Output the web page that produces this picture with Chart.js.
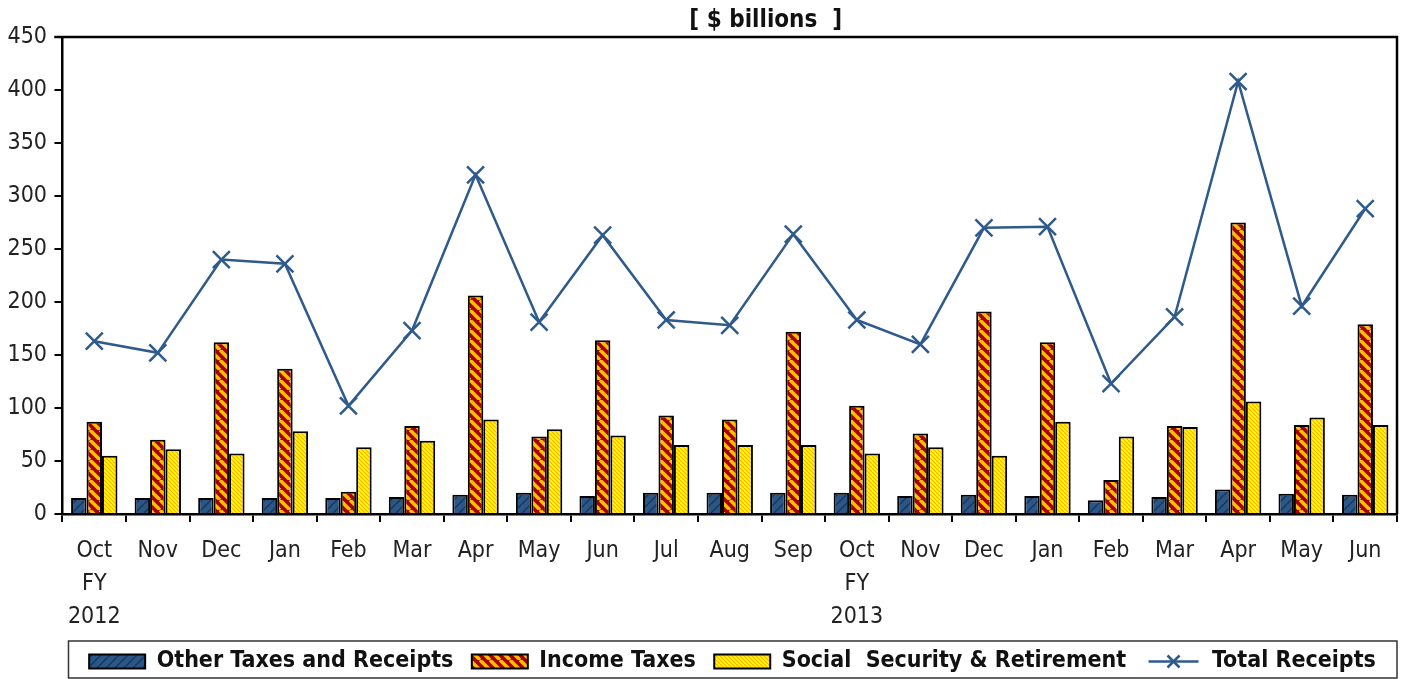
<!DOCTYPE html>
<html>
<head>
<meta charset="utf-8">
<script src="https://cdn.jsdelivr.net/npm/chart.js@4.4.0/dist/chart.umd.min.js"></script>
<style>
  html, body { margin: 0; padding: 0; background: #fff; overflow: hidden; }
  canvas { display: block; }
</style>
</head>
<body>
<canvas id="receipts" width="1405" height="679"></canvas>
<script>
const months = [["Oct", "FY", "2012"], "Nov", "Dec", "Jan", "Feb", "Mar", "Apr", "May", "Jun", "Jul", "Aug", "Sep",
  ["Oct", "FY", "2013"], "Nov", "Dec", "Jan", "Feb", "Mar", "Apr", "May", "Jun"];
const otherTaxes = [15, 15, 15, 15, 15, 16, 18, 20, 17, 20, 20, 20, 20, 17, 18, 17, 13, 16, 23, 19, 18];
const incomeTaxes = [87, 70, 162, 137, 21, 83, 206, 73, 164, 93, 89, 172, 102, 76, 191, 162, 32, 83, 275, 84, 179];
const socialSecurity = [55, 61, 57, 78, 63, 69, 89, 80, 74, 65, 65, 65, 57, 63, 55, 87, 73, 82, 106, 91, 84];
const totalReceipts = [163, 152, 240, 236, 102, 173, 320, 181, 263, 183, 178, 264, 183, 160, 270, 271, 123, 186, 408, 196, 288];
const yTicks = [0, 50, 100, 150, 200, 250, 300, 350, 400, 450];

const FONT = "'Liberation Sans Narrow', 'DejaVu Sans Condensed', 'Liberation Sans', sans-serif";
const LINE_COLOR = '#2E5A8C';

// striped fills like the spreadsheet patterns
function stripes(base, stripe, size, width, dir) {
  const c = document.createElement('canvas');
  c.width = size; c.height = size;
  const g = c.getContext('2d');
  g.fillStyle = base;
  g.fillRect(0, 0, size, size);
  g.strokeStyle = stripe;
  g.lineWidth = width;
  for (let k = -1; k <= 1; k++) {
    const x0 = k * size;
    g.beginPath();
    if (dir === '\\') { g.moveTo(x0, 0); g.lineTo(x0 + size, size); }
    else { g.moveTo(x0, size); g.lineTo(x0 + size, 0); }
    g.stroke();
  }
  return g.createPattern(c, 'repeat');
}

const ctx = document.getElementById('receipts').getContext('2d');
const bluePat = stripes('#2A5788', '#1A3656', 9, 1.5, '/');
const redPat = stripes('#A80000', '#FFC000', 10, 3.4, '\\');
const yellowPat = stripes('#FFFF00', '#FFB000', 4, 1.2, '\\');

const extras = {
  id: 'extras',
  afterLayout(chart) {
    // legend row sits a little right of centre in the original
    chart.legend.left += 34;
    chart.legend.right += 34;
  },
  beforeDatasetsDraw(chart) {
    const a = chart.chartArea, c = chart.ctx;
    c.save();
    c.strokeStyle = '#000';
    c.lineWidth = 2.5;
    c.beginPath();
    c.moveTo(a.left - 8, a.top);
    c.lineTo(a.right, a.top);
    c.lineTo(a.right, a.bottom);
    c.stroke();
    c.restore();
  },
  afterDraw(chart) {
    const a = chart.chartArea, c = chart.ctx, lg = chart.legend;
    c.save();
    // title
    c.font = "bold 24px " + FONT;
    c.fillStyle = '#111';
    c.textAlign = 'center';
    c.textBaseline = 'middle';
    c.fillText('[ $ billions  ]', a.left + (a.right - a.left) * 0.527, 21);
    // legend frame
    c.strokeStyle = '#333';
    c.lineWidth = 1.5;
    c.strokeRect(a.left + 6, 641, a.right - a.left - 6, 37);
    // line legend symbol
    const i = lg.legendItems.findIndex(it => it.datasetIndex === 3);
    const hb = lg.legendHitBoxes[i];
    const cy = hb.top + hb.height / 2;
    c.strokeStyle = LINE_COLOR;
    c.lineWidth = 2.5;
    c.beginPath();
    c.moveTo(hb.left + 4, cy);
    c.lineTo(hb.left + 54, cy);
    c.stroke();
    c.beginPath();
    c.moveTo(hb.left + 23, cy - 6); c.lineTo(hb.left + 35, cy + 6);
    c.moveTo(hb.left + 35, cy - 6); c.lineTo(hb.left + 23, cy + 6);
    c.stroke();
    c.restore();
  }
};

new Chart(ctx, {
  type: 'bar',
  data: {
    labels: months,
    datasets: [{
      label: 'Other Taxes and Receipts  ',
      data: otherTaxes,
      backgroundColor: bluePat,
      borderColor: '#000',
      borderWidth: 2,
      order: 1
    }, {
      label: 'Income Taxes  ',
      data: incomeTaxes,
      backgroundColor: redPat,
      borderColor: '#000',
      borderWidth: 2,
      order: 1
    }, {
      label: 'Social  Security & Retirement  ',
      data: socialSecurity,
      backgroundColor: yellowPat,
      borderColor: '#000',
      borderWidth: 2,
      order: 1
    }, {
      type: 'line',
      label: 'Total Receipts',
      data: totalReceipts,
      borderColor: LINE_COLOR,
      backgroundColor: LINE_COLOR,
      borderWidth: 2.5,
      pointStyle: 'crossRot',
      pointRadius: 12,
      pointBorderWidth: 2.5,
      pointBorderColor: LINE_COLOR,
      tension: 0,
      order: 0
    }]
  },
  options: {
    responsive: false,
    devicePixelRatio: 1,
    animation: false,
    layout: { autoPadding: false, padding: { top: 37, right: 8, left: 0, bottom: -4 } },
    datasets: {
      bar: { categoryPercentage: 0.73, barPercentage: 1 }
    },
    scales: {
      x: {
        afterFit(scale) { scale.paddingLeft = 0; scale.paddingRight = 0; },
        grid: { drawOnChartArea: false, offset: true, tickLength: 8, color: '#000', lineWidth: 2 },
        border: { color: '#000', width: 2.5 },
        ticks: {
          color: '#222',
          font: { family: FONT, size: 23, lineHeight: 1.45 },
          padding: 12,
          maxRotation: 0,
          autoSkip: false
        }
      },
      y: {
        min: 0,
        max: 450,
        afterBuildTicks(axis) { axis.ticks = yTicks.map(v => ({ value: v })); },
        grid: { drawOnChartArea: false, tickLength: 8, color: '#000', lineWidth: 2 },
        border: { color: '#000', width: 2.5 },
        ticks: {
          color: '#222',
          font: { family: FONT, size: 23 },
          padding: 7.5
        }
      }
    },
    plugins: {
      legend: {
        position: 'bottom',
        labels: {
          color: '#111',
          font: { family: FONT, size: 23, weight: 'bold', lineHeight: 0.9 },
          boxWidth: 56,
          boxHeight: 14,
          padding: 4,
          generateLabels(chart) {
            const items = Chart.defaults.plugins.legend.labels.generateLabels(chart);
            items.sort((p, q) => p.datasetIndex - q.datasetIndex);
            const ln = items.find(it => it.datasetIndex === 3);
            ln.fillStyle = 'rgba(0,0,0,0)';
            ln.strokeStyle = 'rgba(0,0,0,0)';
            ln.lineWidth = 0;
            return items;
          }
        }
      },
      tooltip: { enabled: false }
    }
  },
  plugins: [extras]
});
</script>
</body>
</html>
